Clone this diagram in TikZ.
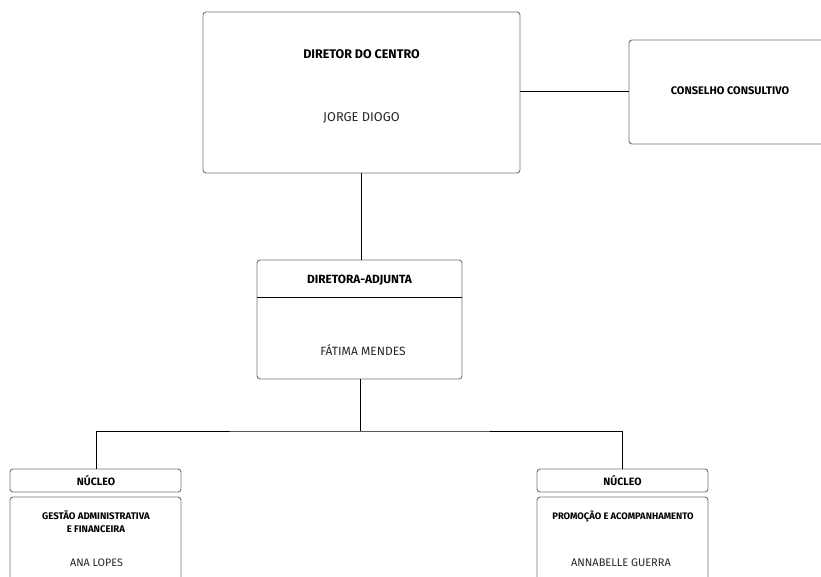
\documentclass[tikz,border=0pt]{standalone}
\usepackage{fontspec}
\setmainfont{Fira Sans}
\begin{document}
\begin{tikzpicture}[x=1pt,y=-1pt,
  box/.style={draw=black!55, line width=0.9pt, rounded corners=3pt},
  conn/.style={draw=black, line width=0.8pt},
  ttl/.style={font=\bfseries\fontsize{12.5}{14}\selectfont, text=black},
  nm/.style={font=\fontsize{12.8}{14}\selectfont, text=black!85},
  sm/.style={font=\bfseries\fontsize{9.6}{13}\selectfont, text=black, align=center},
  smn/.style={font=\fontsize{10.8}{12}\selectfont, text=black!85}]
\useasboundingbox (0,0) rectangle (821,577);
\clip (0,0) rectangle (821,577);
% boxes
\draw[box] (203,12) rectangle (520,173);
\coordinate (dirR) at (520,91);
\coordinate (dirB) at (361,173);
\draw[box] (629,40) rectangle (860,144);
\coordinate (conL) at (629,91);
\draw[box] (257,260) rectangle (462,379);
\coordinate (adjT) at (361,260);
\coordinate (adjB) at (360,379);
\draw[black, line width=0.8pt] (257,297) -- (462,297);
\draw[box] (10,469) rectangle (181,492);
\draw[box] (537,469) rectangle (708,492);
\draw[box] (10,497) rectangle (181,600);
\draw[box] (537,497) rectangle (708,600);
\coordinate (nlT) at (96,469);
\coordinate (nrT) at (622,469);
\coordinate (mid) at (360,431);
% texts
\node[ttl] (t1) at (361.5,54) {DIRETOR DO CENTRO};
\node[nm] (n1) at (361.5,118) {JORGE DIOGO};
\node[ttl, font=\bfseries\fontsize{11}{13}\selectfont] (t2) at (730,91) {CONSELHO CONSULTIVO};
\node[ttl, font=\bfseries\fontsize{11.9}{13}\selectfont] (t3) at (359.5,280) {DIRETORA-ADJUNTA};
\node[nm, font=\fontsize{12}{14}\selectfont] (n3) at (363,350) {FÁTIMA MENDES};
\node[sm, font=\bfseries\fontsize{10.6}{12}\selectfont] (t4) at (96,480.5) {NÚCLEO};
\node[sm, font=\bfseries\fontsize{10.6}{12}\selectfont] (t5) at (622.5,480.5) {NÚCLEO};
\node[sm] (t6) at (96,521.5) {GESTÃO ADMINISTRATIVA\\E FINANCEIRA};
\node[smn] (n6) at (96.5,563) {ANA LOPES};
\node[sm, font=\bfseries\fontsize{9.4}{11}\selectfont] (t7) at (623,516) {PROMOÇÃO E ACOMPANHAMENTO};
\node[smn, font=\fontsize{11}{12}\selectfont] (n7) at (621,563) {ANNABELLE GUERRA};
% connectors
\draw[conn] (dirR) -- (conL);
\draw[conn] (dirB) -- (adjT);
\draw[conn] (adjB) -- (mid);
\draw[conn] (nlT) |- (mid) -| (nrT);
\end{tikzpicture}
\end{document}
